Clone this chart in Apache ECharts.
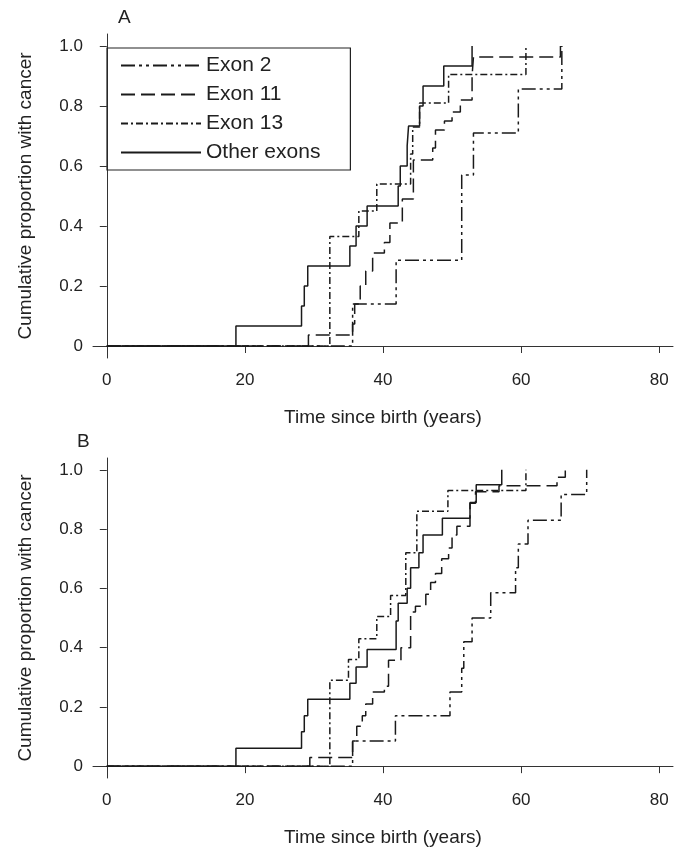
<!DOCTYPE html>
<html><head><meta charset="utf-8">
<script src="https://cdn.jsdelivr.net/npm/echarts@6/dist/echarts.min.js"></script>
<style>body{margin:0;background:#fff}#c{width:682px;height:848px}</style>
</head><body><div id="c"></div>
<script>
const seriesNames = ['Exon 2','Exon 11','Exon 13','Other exons'];
const xTicks = [0,20,40,60,80];
const yTicks = [0,0.2,0.4,0.6,0.8,1.0];
// Panel A step points [age, cumulative proportion]
const aExon2 = [[0,0],[35.6,0.14],[41.9,0.286],[51.4,0.57],[53.1,0.71],[59.6,0.857],[65.9,1.0]];
const aExon11 = [[0,0],[29.2,0.037],[35.6,0.073],[35.9,0.14],[36.7,0.2],[37.5,0.25],[38.5,0.31],[40.2,0.345],[41.0,0.41],[42.8,0.49],[44.4,0.62],[47.2,0.66],[47.6,0.72],[48.9,0.75],[50.0,0.78],[51.2,0.82],[52.9,0.9],[53.1,0.963],[65.7,1.0]];
const aExon13 = [[0,0],[32.3,0.365],[36.5,0.45],[39.1,0.54],[44.0,0.64],[44.3,0.73],[45.3,0.81],[49.5,0.905],[60.7,1.0]];
const aOther = [[0,0],[18.7,0.067],[28.2,0.133],[28.6,0.2],[29.1,0.267],[35.2,0.333],[36.1,0.4],[37.7,0.467],[42.2,0.533],[42.5,0.6],[43.5,0.667],[43.7,0.733],[45.3,0.8],[45.8,0.867],[48.8,0.933],[52.9,1.0]];
// Panel B
const bExon2 = [[0,0],[35.6,0.085],[41.8,0.17],[49.7,0.25],[51.4,0.33],[51.7,0.42],[52.9,0.5],[55.6,0.585],[59.2,0.67],[59.6,0.75],[61.0,0.83],[65.8,0.917],[69.5,1.0]];
const bExon11 = [[0,0],[29.4,0.029],[35.6,0.085],[36.2,0.135],[37.0,0.17],[37.5,0.21],[38.5,0.25],[40.2,0.27],[40.8,0.357],[42.6,0.4],[44.0,0.52],[44.7,0.54],[46.2,0.58],[46.9,0.62],[47.6,0.65],[48.5,0.7],[49.5,0.736],[50.0,0.78],[50.7,0.81],[52.6,0.887],[53.4,0.926],[56.8,0.946],[65.2,0.975],[66.4,1.0]];
const bExon13 = [[0,0],[32.3,0.29],[35.0,0.36],[36.5,0.43],[39.1,0.505],[41.1,0.576],[43.3,0.72],[44.9,0.86],[49.4,0.93],[60.7,1.0]];
const bOther = [[0,0],[18.7,0.06],[28.2,0.116],[28.6,0.17],[29.1,0.226],[35.2,0.28],[36.1,0.335],[37.7,0.394],[41.9,0.49],[42.2,0.55],[43.5,0.6],[44.0,0.67],[45.2,0.72],[45.8,0.78],[48.6,0.837],[52.6,0.89],[53.5,0.95],[57.2,1.0]];

const dashes = [[14,4,3,4,3,4],[14,6],[7,3,2,3],'solid'];
const font = 'Liberation Sans';
function mkX(i){return {gridIndex:i,type:'value',min:-2,max:82,interval:20,
  name:'Time since birth (years)',nameLocation:'middle',nameGap:50,
  nameTextStyle:{fontSize:19,color:'#222',fontFamily:font},
  axisLine:{show:true,lineStyle:{color:'#333'}},axisTick:{show:true,length:7,lineStyle:{color:'#333'},customValues:xTicks},
  axisLabel:{fontSize:17,color:'#222',fontFamily:font,margin:14,customValues:xTicks},splitLine:{show:false}};}
function mkY(i){return {gridIndex:i,type:'value',min:-0.04,max:1.04,
  name:'Cumulative proportion with cancer',nameLocation:'middle',nameGap:58,
  nameTextStyle:{fontSize:19,color:'#222',fontFamily:font},
  axisLine:{show:true,lineStyle:{color:'#333'}},axisTick:{show:true,length:7,lineStyle:{color:'#333'},customValues:yTicks},
  axisLabel:{fontSize:17,color:'#222',fontFamily:font,margin:10,customValues:yTicks,formatter:v=>Math.abs(v)<1e-9?'0':v.toFixed(1)},splitLine:{show:false}};}
const panels=[[aExon2,aExon11,aExon13,aOther],[bExon2,bExon11,bExon13,bOther]];
const series=[];
panels.forEach((p,gi)=>p.forEach((d,k)=>series.push({type:'line',name:seriesNames[k],step:'end',xAxisIndex:gi,yAxisIndex:gi,
  data:d,symbol:'none',silent:true,animation:false,lineStyle:{color:'#1a1a1a',width:1.5,type:dashes[k]}})));
const chart=echarts.init(document.getElementById('c'),null,{renderer:'canvas'});
chart.setOption({
  backgroundColor:'#fff',animation:false,
  grid:[{left:93,width:580,top:34,height:324},{left:93,width:580,top:458,height:321}],
  xAxis:[mkX(0),mkX(1)],yAxis:[mkY(0),mkY(1)],
  legend:{show:true,left:107,top:48,orient:'vertical',itemWidth:80,itemHeight:10,itemGap:8,
    borderColor:'#222',borderWidth:1.2,padding:[7,30,7,13],
    textStyle:{fontSize:21,color:'#222',fontFamily:font},
    data:seriesNames.map(n=>({name:n,itemStyle:{opacity:0}}))},
  graphic:[
    {type:'text',left:118,top:8,style:{text:'A',fontSize:19,fill:'#222',fontFamily:font}},
    {type:'text',left:77,top:432,style:{text:'B',fontSize:19,fill:'#222',fontFamily:font}}],
  series:series
});
</script></body></html>
